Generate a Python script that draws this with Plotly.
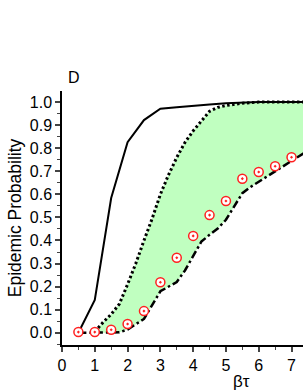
import plotly.graph_objects as go

# Solid curve
solid_x = [0.5, 1.0, 1.5, 2.0, 2.5, 3.0, 3.5, 4.0, 4.5, 5.0, 5.5, 6.0, 7.0, 7.5]
solid_y = [0.0, 0.142, 0.584, 0.826, 0.922, 0.971, 0.978, 0.985, 0.99, 0.995, 0.998, 1.0, 1.0, 1.0]

# Dotted curve (upper bound of shaded band)
dot_x = [1.0, 1.25, 1.5, 1.75, 2.0, 2.25, 2.5, 2.75, 3.0, 3.25, 3.5, 3.75, 4.0, 4.25, 4.5, 4.75, 5.0, 5.5, 6.0, 7.0, 7.5]
dot_y = [0.005, 0.045, 0.08, 0.125, 0.21, 0.3, 0.4, 0.495, 0.6, 0.685, 0.76, 0.825, 0.875, 0.92, 0.96, 0.977, 0.985, 0.995, 1.0, 1.0, 1.0]

# Dash-dot curve (lower bound of shaded band)
dd_x = [0.5, 1.0, 1.5, 1.75, 2.0, 2.5, 3.0, 3.5, 3.75, 4.0, 4.25, 4.5, 4.75, 5.0, 5.25, 5.5, 5.75, 6.0, 6.5, 7.0, 7.5]
dd_y = [0.0, 0.0, 0.0, 0.002, 0.014, 0.06, 0.18, 0.22, 0.27, 0.335, 0.395, 0.425, 0.452, 0.49, 0.55, 0.605, 0.632, 0.655, 0.70, 0.745, 0.79]

# Red circle markers
pt_x = [0.5, 1.0, 1.5, 2.0, 2.5, 3.0, 3.5, 4.0, 4.5, 5.0, 5.5, 6.0, 6.5, 7.0]
pt_y = [0.003, 0.003, 0.013, 0.038, 0.094, 0.219, 0.325, 0.42, 0.51, 0.571, 0.668, 0.697, 0.722, 0.761]

y_ticks = [round(i * 0.1, 1) for i in range(11)]
x_ticks = list(range(8))

band_lo = [(x, y) for x, y in zip(dd_x, dd_y) if x >= dot_x[0]]
fill_x = dot_x + [p[0] for p in reversed(band_lo)]
fill_y = dot_y + [p[1] for p in reversed(band_lo)]

fig = go.Figure()
fig.add_trace(go.Scatter(x=fill_x, y=fill_y, fill="toself", fillcolor="#c0ffc0",
                         line=dict(width=0), mode="lines", hoverinfo="skip"))
fig.add_trace(go.Scatter(x=solid_x, y=solid_y, mode="lines",
                         line=dict(color="black", width=2)))
fig.add_trace(go.Scatter(x=dot_x, y=dot_y, mode="lines",
                         line=dict(color="black", width=3, dash="2.5px,2.5px")))
fig.add_trace(go.Scatter(x=dd_x, y=dd_y, mode="lines",
                         line=dict(color="black", width=2.5, dash="8px,3px,2.5px,3px")))
fig.add_trace(go.Scatter(x=pt_x, y=pt_y, mode="markers",
                         marker=dict(symbol="circle-dot", size=9, color="white",
                                     line=dict(color="#ff2020", width=1.5))))

font = "Liberation Sans, Arial, sans-serif"
H = 254.0  # plot height in px
fig.update_layout(
    width=303, height=392,
    margin=dict(l=62, r=0, t=91, b=47),
    paper_bgcolor="white", plot_bgcolor="white",
    showlegend=False,
    font=dict(family=font, size=16, color="black"),
    xaxis=dict(range=[0, 7.35], tickvals=x_ticks, ticktext=[str(v) for v in x_ticks],
               ticks="outside", ticklen=5, tickwidth=1.5, showline=True, linewidth=1.5,
               linecolor="black", showgrid=False, zeroline=False, automargin=False,
               minor=dict(dtick=0.5, tick0=0, ticks="outside", ticklen=3, tickwidth=1.2, showgrid=False),
               tickfont=dict(size=16)),
    yaxis=dict(range=[-0.053, 1.048], tickvals=y_ticks, ticktext=[f"{v:.1f}" for v in y_ticks],
               ticks="outside", ticklen=5, tickwidth=1.5, showline=True, linewidth=1.5,
               linecolor="black", showgrid=False, zeroline=False, automargin=False,
               minor=dict(dtick=0.05, tick0=0, ticks="outside", ticklen=3, tickwidth=1.2, showgrid=False),
               tickfont=dict(size=16),
               title=dict(text="Epidemic Probability", font=dict(size=17.5), standoff=4)),
    annotations=[
        dict(text="D", xref="paper", yref="paper", x=(66 - 62) / 241, y=(345 - 77) / H,
             xanchor="left", yanchor="middle", showarrow=False, font=dict(size=16)),
        dict(text="βτ", xref="paper", yref="paper", x=(241 - 62) / 241, y=-(381 - 345) / H,
             xanchor="center", yanchor="middle", showarrow=False, font=dict(size=17)),
    ],
)
fig.write_html("out.html", config={"displayModeBar": False},
               post_script="document.body.style.margin='0';document.body.style.overflow='hidden';")
